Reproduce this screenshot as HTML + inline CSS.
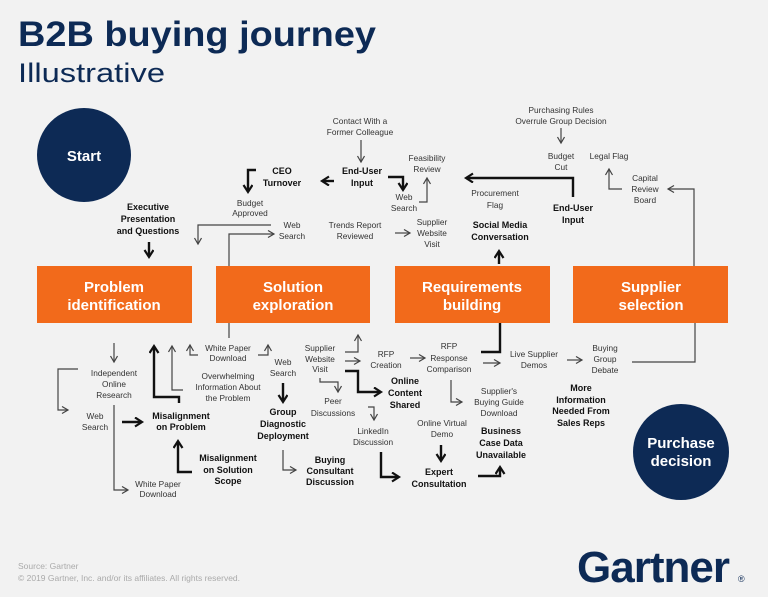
<!DOCTYPE html>
<html><head><meta charset="utf-8"><style>
html,body{margin:0;padding:0;background:#f2f2f2;}
svg{display:block;font-family:"Liberation Sans",sans-serif;}
.t{font-size:8.3px;fill:#333;text-anchor:middle;}
.b{font-size:9px;font-weight:bold;fill:#111;text-anchor:middle;}
.l{fill:none;stroke:#444;stroke-width:1.2;}
.k{fill:none;stroke:#111;stroke-width:2.4;}
</style></head><body>
<svg width="768" height="597" viewBox="0 0 768 597" xmlns="http://www.w3.org/2000/svg">
<defs>
<marker id="a" markerUnits="userSpaceOnUse" markerWidth="10" markerHeight="10" refX="7" refY="4" orient="auto"><path d="M1,0.5 L7,4 L1,7.5" fill="none" stroke="#444" stroke-width="1.2"/></marker>
<marker id="A" markerUnits="userSpaceOnUse" markerWidth="12" markerHeight="12" refX="8" refY="5" orient="auto"><path d="M1,0.5 L8,5 L1,9.5" fill="none" stroke="#111" stroke-width="2.2"/></marker>
</defs>
<rect width="768" height="597" fill="#f2f2f2"/>
<text x="18" y="46" font-size="35" font-weight="bold" fill="#0d2a55" textLength="358" lengthAdjust="spacingAndGlyphs">B2B buying journey</text>
<text x="18" y="82" font-size="27" fill="#0d2a55" textLength="147" lengthAdjust="spacingAndGlyphs">Illustrative</text>
<circle cx="84" cy="155" r="47" fill="#0d2a55"/>
<text x="84" y="161" font-size="15" font-weight="bold" fill="#fff" text-anchor="middle">Start</text>
<circle cx="681" cy="452" r="48" fill="#0d2a55"/>
<text x="681" y="448" font-size="15" font-weight="bold" fill="#fff" text-anchor="middle">Purchase</text>
<text x="681" y="466" font-size="15" font-weight="bold" fill="#fff" text-anchor="middle">decision</text>
<g fill="#f26a1b">
<rect x="37" y="266" width="155" height="57"/><rect x="216" y="266" width="154" height="57"/>
<rect x="395" y="266" width="155" height="57"/><rect x="573" y="266" width="155" height="57"/>
</g>
<g font-size="15" font-weight="bold" fill="#fff" text-anchor="middle">
<text x="114" y="292">Problem</text><text x="114" y="310">identification</text>
<text x="293" y="292">Solution</text><text x="293" y="310">exploration</text>
<text x="472" y="292">Requirements</text><text x="472" y="310">building</text>
<text x="651" y="292">Supplier</text><text x="651" y="310">selection</text>
</g>
<text class="t" x="360" y="124">Contact With a</text><text class="t" x="360" y="135">Former Colleague</text>
<text class="b" x="282" y="174">CEO</text><text class="b" x="282" y="186">Turnover</text>
<text class="b" x="362" y="174">End-User</text><text class="b" x="362" y="186">Input</text>
<text class="t" x="250" y="206">Budget</text><text class="t" x="250" y="216">Approved</text>
<text class="b" x="148" y="210">Executive</text><text class="b" x="148" y="222">Presentation</text><text class="b" x="148" y="234">and Questions</text>
<text class="t" x="292" y="228">Web</text><text class="t" x="292" y="239">Search</text>
<text class="t" x="355" y="228">Trends Report</text><text class="t" x="355" y="239">Reviewed</text>
<text class="t" x="432" y="225">Supplier</text><text class="t" x="432" y="236">Website</text><text class="t" x="432" y="247">Visit</text>
<text class="t" x="427" y="161">Feasibility</text><text class="t" x="427" y="172">Review</text>
<text class="t" x="404" y="200">Web</text><text class="t" x="404" y="211">Search</text>
<text class="t" x="495" y="196">Procurement</text><text class="t" x="495" y="208">Flag</text>
<text class="b" x="500" y="228">Social Media</text><text class="b" x="500" y="240">Conversation</text>
<text class="b" x="573" y="211">End-User</text><text class="b" x="573" y="223">Input</text>
<text class="t" x="561" y="113">Purchasing Rules</text><text class="t" x="561" y="124">Overrule Group Decision</text>
<text class="t" x="561" y="159">Budget</text><text class="t" x="561" y="170">Cut</text>
<text class="t" x="609" y="159">Legal Flag</text>
<text class="t" x="645" y="181">Capital</text><text class="t" x="645" y="192">Review</text><text class="t" x="645" y="203">Board</text>
<path class="l" d="M361,140 V162" marker-end="url(#a)"/>
<path class="k" d="M256,170 H248 V192" marker-end="url(#A)"/>
<path class="k" d="M334,181 H322" marker-end="url(#A)"/>
<path class="k" d="M149,242 V257" marker-end="url(#A)"/>
<path class="l" d="M271,225 H198 V244" marker-end="url(#a)"/>
<path class="l" d="M229,266 V234 H274" marker-end="url(#a)"/>
<path class="l" d="M395,233 H410" marker-end="url(#a)"/>
<path class="k" d="M388,177 H403 V190" marker-end="url(#A)"/>
<path class="l" d="M419,202 H427 V178" marker-end="url(#a)"/>
<path class="k" d="M573,197 V178 H466" marker-end="url(#A)"/>
<path class="k" d="M499,264 V251" marker-end="url(#A)"/>
<path class="l" d="M561,128 V143" marker-end="url(#a)"/>
<path class="l" d="M622,189 H609 V169" marker-end="url(#a)"/>
<path class="l" d="M694,266 V189 H668" marker-end="url(#a)"/>
<text class="t" x="114" y="376">Independent</text><text class="t" x="114" y="387">Online</text><text class="t" x="114" y="398">Research</text>
<text class="t" x="95" y="419">Web</text><text class="t" x="95" y="430">Search</text>
<text class="t" x="158" y="487">White Paper</text><text class="t" x="158" y="497">Download</text>
<text class="b" x="181" y="419">Misalignment</text><text class="b" x="181" y="430">on Problem</text>
<text class="t" x="228" y="351">White Paper</text><text class="t" x="228" y="361">Download</text>
<text class="t" x="228" y="379">Overwhelming</text><text class="t" x="228" y="390">Information About</text><text class="t" x="228" y="401">the Problem</text>
<text class="t" x="283" y="365">Web</text><text class="t" x="283" y="376">Search</text>
<text class="b" x="283" y="415">Group</text><text class="b" x="283" y="427">Diagnostic</text><text class="b" x="283" y="439">Deployment</text>
<text class="b" x="228" y="461">Misalignment</text><text class="b" x="228" y="473">on Solution</text><text class="b" x="228" y="484">Scope</text>
<text class="b" x="330" y="463">Buying</text><text class="b" x="330" y="474">Consultant</text><text class="b" x="330" y="485">Discussion</text>
<text class="t" x="320" y="351">Supplier</text><text class="t" x="320" y="362">Website</text><text class="t" x="320" y="372">Visit</text>
<text class="b" x="405" y="384">Online</text><text class="b" x="405" y="396">Content</text><text class="b" x="405" y="408">Shared</text>
<text class="t" x="333" y="404">Peer</text><text class="t" x="333" y="416">Discussions</text>
<text class="t" x="373" y="434">LinkedIn</text><text class="t" x="373" y="445">Discussion</text>
<text class="t" x="386" y="357">RFP</text><text class="t" x="386" y="368">Creation</text>
<text class="t" x="449" y="349">RFP</text><text class="t" x="449" y="361">Response</text><text class="t" x="449" y="372">Comparison</text>
<text class="t" x="534" y="357">Live Supplier</text><text class="t" x="534" y="368">Demos</text>
<text class="t" x="605" y="351">Buying</text><text class="t" x="605" y="362">Group</text><text class="t" x="605" y="373">Debate</text>
<text class="t" x="499" y="394">Supplier's</text><text class="t" x="499" y="405">Buying Guide</text><text class="t" x="499" y="416">Download</text>
<text class="t" x="442" y="426">Online Virtual</text><text class="t" x="442" y="437">Demo</text>
<text class="b" x="439" y="475">Expert</text><text class="b" x="439" y="487">Consultation</text>
<text class="b" x="501" y="434">Business</text><text class="b" x="501" y="446">Case Data</text><text class="b" x="501" y="458">Unavailable</text>
<text class="b" x="581" y="391">More</text><text class="b" x="581" y="403">Information</text><text class="b" x="581" y="414">Needed From</text><text class="b" x="581" y="426">Sales Reps</text>
<path class="l" d="M229,323 V338"/>
<path class="l" d="M114,343 V362" marker-end="url(#a)"/>
<path class="l" d="M78,369 H58 V410 H68" marker-end="url(#a)"/>
<path class="l" d="M114,405 V490 H128" marker-end="url(#a)"/>
<path class="k" d="M122,422 H142" marker-end="url(#A)"/>
<path class="k" d="M179,403 V397 H154 V346" marker-end="url(#A)"/>
<path class="l" d="M183,390 H172 V346" marker-end="url(#a)"/>
<path class="l" d="M198,355 H190 V345" marker-end="url(#a)"/>
<path class="l" d="M258,355 H268 V345" marker-end="url(#a)"/>
<path class="k" d="M283,383 V402" marker-end="url(#A)"/>
<path class="k" d="M192,472 H178 V441" marker-end="url(#A)"/>
<path class="l" d="M283,450 V470 H296" marker-end="url(#a)"/>
<path class="l" d="M345,352 H358 V335" marker-end="url(#a)"/>
<path class="l" d="M345,361 H360" marker-end="url(#a)"/>
<path class="k" d="M345,371 H358 V392 H381" marker-end="url(#A)"/>
<path class="l" d="M320,378 V382 H338 V392" marker-end="url(#a)"/>
<path class="l" d="M368,407 H374 V420" marker-end="url(#a)"/>
<path class="k" d="M381,452 V477 H399" marker-end="url(#A)"/>
<path class="l" d="M410,358 H425" marker-end="url(#a)"/>
<path class="k" d="M481,352 H500 V323"/>
<path class="l" d="M483,363 H500" marker-end="url(#a)"/>
<path class="l" d="M567,360 H582" marker-end="url(#a)"/>
<path class="l" d="M632,362 H695 V323"/>
<path class="l" d="M451,380 V402 H462" marker-end="url(#a)"/>
<path class="k" d="M441,445 V461" marker-end="url(#A)"/>
<path class="k" d="M478,476 H500 V467" marker-end="url(#A)"/>
<text x="18" y="569" font-size="8.5" fill="#aaa">Source: Gartner</text>
<text x="18" y="581" font-size="8.5" fill="#aaa">© 2019 Gartner, Inc. and/or its affiliates. All rights reserved.</text>
<text x="577" y="582" font-size="44" font-weight="bold" fill="#0d2a55" letter-spacing="-1">Gartner</text>
<text x="738" y="582" font-size="9" fill="#0d2a55">®</text>
</svg>
</body></html>
